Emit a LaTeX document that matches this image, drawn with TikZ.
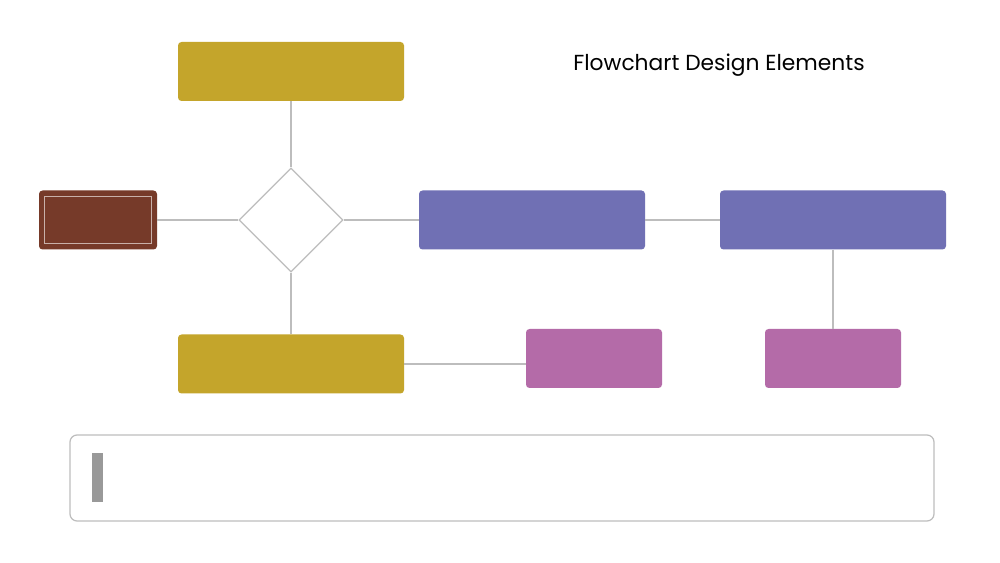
\documentclass[tikz,border=0pt]{standalone}
\usepackage{xcolor}
\usepackage{fontspec}
\setmainfont{Poppins}
\usepackage{tikz}
\usetikzlibrary{positioning, shapes.geometric, calc}
\definecolor{goldbox}{HTML}{C4A52B}
\definecolor{brownbox}{HTML}{763A29}
\definecolor{violetbox}{HTML}{7070B4}
\definecolor{pinkbox}{HTML}{B46BA8}
\definecolor{linegray}{HTML}{BDBDBD}
\definecolor{bargray}{HTML}{999999}

\begin{document}
\begin{tikzpicture}[x=0.02cm, y=-0.02cm,
        block/.style={rounded corners=2pt, inner sep=0pt, minimum height=59*0.02cm},
        wide/.style={block, minimum width=226*0.02cm},
        small/.style={block, minimum width=136*0.02cm},
        link/.style={draw=linegray, line width=0.7pt}]
        \useasboundingbox[fill=white] (0,0) rectangle (1000,563);
        \node[wide, fill=goldbox] (g1) at (291,71.5) {};
        \node[draw=linegray, line width=0.7pt, fill=white, diamond, inner sep=0pt, minimum width=104*0.02cm, minimum height=104*0.02cm] (d1) at (291,220) {};
        \node[block, fill=brownbox, minimum width=118*0.02cm] (b1) at (98,220) {};
        \draw[draw=white!60!brownbox, line width=0.6pt] ($(b1.north west)+(6,6)$) rectangle ($(b1.south east)+(-6,-6)$);
        \node[wide, fill=violetbox] (v1) at (532,220) {};
        \node[wide, fill=violetbox] (v2) at (833,220) {};
        \node[wide, fill=goldbox] (g2) at (291,364) {};
        \node[small, fill=pinkbox] (p1) at (594,358.5) {};
        \node[small, fill=pinkbox] (p2) at (833,358.5) {};
        \node[font=\fontsize{12.4}{15}\selectfont, anchor=center] (title) at (719,65.5) {Flowchart Design Elements};
        \draw[link] (g1) -- (d1);
        \draw[link] (d1) -- (b1);
        \draw[link] (d1) -- (v1);
        \draw[link] (d1) -- (g2);
        \draw[link] (v1) -- (v2);
        \draw[link] (v2) -- (p2);
        \draw[link] (g2.east) -- (g2.east -| p1.west);
        \node[draw=linegray, line width=0.7pt, rounded corners=4pt, minimum width=864*0.02cm, minimum height=86*0.02cm] (note) at (502,478) {};
        \node[fill=bargray, inner sep=0pt, minimum width=11*0.02cm, minimum height=49*0.02cm] (bar) at (97.5,477.5) {};
    \end{tikzpicture}
\end{document}
